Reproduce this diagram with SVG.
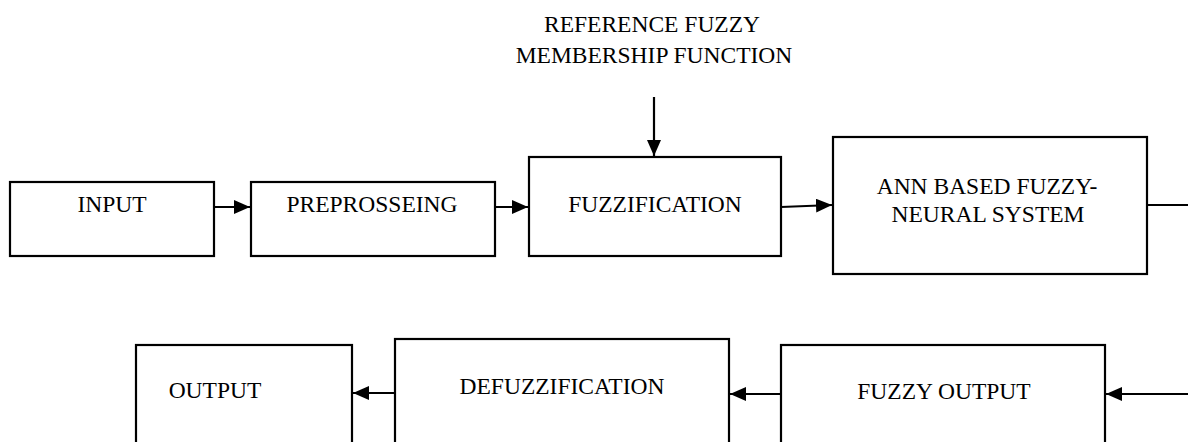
<svg xmlns="http://www.w3.org/2000/svg" width="1188" height="442" viewBox="0 0 1188 442">
<style>
.box{fill:#fff;stroke:#000;stroke-width:2.2}
.t{font-family:"Liberation Serif","Times New Roman",serif;font-size:23.5px;fill:#000;text-anchor:middle}
.c{fill:none;stroke:#000;stroke-width:2.2}
</style>
<defs>
<marker id="ah" markerUnits="userSpaceOnUse" markerWidth="16" markerHeight="14" refX="16" refY="7" orient="auto">
<path d="M0,0 L16,7 L0,14 Z" fill="#000"/>
</marker>
</defs>
<g id="label-ref">
<text class="t" x="652" y="32">REFERENCE FUZZY</text>
<text class="t" x="654" y="63">MEMBERSHIP FUNCTION</text>
</g>
<g id="input"><rect class="box" x="10" y="182" width="204" height="74"/><text class="t" x="112" y="212">INPUT</text></g>
<g id="preprocessing"><rect class="box" x="251" y="182" width="244" height="74"/><text class="t" x="372" y="212">PREPROSSEING</text></g>
<g id="fuzzification"><rect class="box" x="529" y="157" width="252" height="99"/><text class="t" x="655" y="212">FUZZIFICATION</text></g>
<g id="ann"><rect class="box" x="833" y="137" width="314" height="137"/><text class="t" x="987" y="194">ANN BASED FUZZY-</text><text class="t" x="988" y="222">NEURAL SYSTEM</text></g>
<g id="output"><rect class="box" x="136" y="345" width="216" height="110"/><text class="t" x="215" y="398">OUTPUT</text></g>
<g id="defuzzification"><rect class="box" x="395" y="339" width="334" height="116"/><text class="t" x="562" y="394">DEFUZZIFICATION</text></g>
<g id="fuzzy-output"><rect class="box" x="781" y="345" width="324" height="110"/><text class="t" x="944" y="399">FUZZY OUTPUT</text></g>
<g id="connectors">
<line class="c" x1="654" y1="97" x2="654" y2="156" marker-end="url(#ah)"/>
<line class="c" x1="214" y1="207" x2="250" y2="207" marker-end="url(#ah)"/>
<line class="c" x1="495" y1="207" x2="528" y2="207" marker-end="url(#ah)"/>
<line class="c" x1="781" y1="207" x2="832" y2="205" marker-end="url(#ah)"/>
<line class="c" x1="1147" y1="205" x2="1188" y2="205"/>
<line class="c" x1="1188" y1="394" x2="1106" y2="394" marker-end="url(#ah)"/>
<line class="c" x1="781" y1="394" x2="730" y2="394" marker-end="url(#ah)"/>
<line class="c" x1="395" y1="393" x2="353" y2="393" marker-end="url(#ah)"/>
</g>
</svg>
